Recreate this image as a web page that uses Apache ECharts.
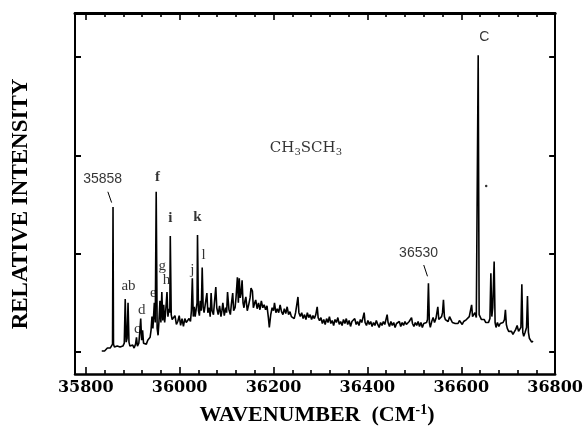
<!DOCTYPE html>
<html><head><meta charset="utf-8">
<script src="https://cdn.jsdelivr.net/npm/echarts@6/dist/echarts.min.js"></script>
<style>html,body{margin:0;padding:0;background:#fff}#c{width:586px;height:427px}</style>
</head><body><div id="c"></div>
<script>
// ---------- data ----------
const xMajorTicks = [35800, 36000, 36200, 36400, 36600, 36800];
const xMinorTicks = [35840, 35880, 35920, 35960, 36040, 36080, 36120, 36160, 36240, 36280, 36320, 36360,
                     36440, 36480, 36520, 36560, 36640, 36680, 36720, 36760];
const yTicks = [0, 1, 2, 3];

// [wavenumber (cm-1), relative intensity]
const spectrumLow = [
 [35834,0.01],[35837,0.02],[35840,0.01],[35843,0.03],[35846,0.04],[35849,0.03],[35852,0.04],[35855,0.05],
 [35857,0.08],[35858,1.475],[35859,0.08],[35861,0.05],[35864,0.04],[35867,0.06],[35870,0.04],[35873,0.05],
 [35876,0.04],[35879,0.06],[35882,0.09],[35884,0.54],[35886,0.1],[35888,0.14],[35890,0.50],[35892,0.1],
 [35894,0.06],[35897,0.05],[35900,0.07],[35903,0.04],[35906,0.08],[35908,0.15],[35910,0.06],[35913,0.09],
 [35915,0.2],[35917,0.34],[35919,0.12],[35921,0.22],[35923,0.09],[35926,0.11],[35929,0.08],[35932,0.12],
 [35935,0.10],[35937,0.15],[35939,0.22],[35941,0.36],[35943,0.24],[35946,0.50],[35948,0.3],[35950,1.63],
 [35952,0.24],[35954,0.17],[35956,0.32],[35958,0.52],[35960,0.3],[35962,0.61],[35964,0.32],[35966,0.48],
 [35968,0.3],[35970,0.4],[35973,0.61],[35975,0.36],[35977,0.44],[35979,0.4],[35980,1.18],[35982,0.38],
 [35984,0.33],[35987,0.31],[35990,0.37],[35993,0.28],[35996,0.31],[35999,0.37],[36002,0.27],[36005,0.34],
 [36008,0.26],[36011,0.34],[36014,0.30],[36017,0.29],[36020,0.34],[36023,0.31],[36025,0.42],[36027,0.75],
 [36029,0.36],[36031,0.46],[36033,0.36],[36035,0.43],[36037,0.5],[36038,1.19],[36040,0.42],[36042,0.37],
 [36044,0.52],[36046,0.42],[36048,0.86],[36050,0.46],[36052,0.40]
];
const spectrumMid = [
 [36055,0.38],[36058,0.6],[36060,0.40],[36063,0.45],[36065,0.36],[36067,0.6],[36069,0.42],[36072,0.38],
 [36074,0.5],[36077,0.66],[36079,0.45],[36082,0.38],[36085,0.47],[36088,0.36],[36090,0.42],[36092,0.5],
 [36095,0.37],[36098,0.45],[36100,0.40],[36102,0.61],[36105,0.43],[36108,0.38],[36110,0.48],[36113,0.6],
 [36115,0.42],[36118,0.45],[36120,0.55],[36123,0.76],[36125,0.5],[36127,0.75],[36129,0.55],[36131,0.6],
 [36133,0.73],[36135,0.5],[36137,0.45],[36139,0.52],[36141,0.56],[36144,0.42],[36147,0.48],[36150,0.55],
 [36152,0.65],[36155,0.62],[36157,0.45],[36160,0.5],[36162,0.53],[36165,0.44],[36168,0.5],[36171,0.43],
 [36174,0.52],[36177,0.45],[36180,0.48],[36183,0.43],[36186,0.47],[36189,0.35],[36191,0.25],[36194,0.38],
 [36197,0.45],[36200,0.42],[36202,0.50],[36205,0.40],[36208,0.44],[36211,0.40],[36214,0.48],[36217,0.41],
 [36220,0.38],[36223,0.44],[36226,0.39],[36229,0.46],[36232,0.38],[36235,0.41],[36238,0.36],[36241,0.38],
 [36244,0.34],[36247,0.40],[36250,0.42],[36252,0.56],[36254,0.40],[36257,0.36],[36260,0.40],[36263,0.34],
 [36266,0.38],[36269,0.33],[36272,0.40],[36275,0.35],[36278,0.38],[36281,0.33],[36284,0.37],[36287,0.34],
 [36290,0.38],[36293,0.46],[36295,0.35],[36298,0.32]
];
const spectrumFlat = [
 [36301,0.35],[36304,0.29],[36307,0.33],[36310,0.28],[36313,0.34],[36316,0.30],[36319,0.36],[36322,0.29],
 [36325,0.32],[36328,0.27],[36331,0.33],[36334,0.30],[36337,0.35],[36340,0.28],[36343,0.31],[36346,0.27],
 [36349,0.33],[36352,0.29],[36355,0.34],[36358,0.28],[36361,0.32],[36364,0.26],[36367,0.31],[36370,0.29],
 [36373,0.34],[36376,0.28],[36379,0.31],[36382,0.27],[36385,0.33],[36388,0.30],[36391,0.36],[36393,0.40],
 [36395,0.30],[36398,0.27],[36401,0.32],[36404,0.28],[36407,0.31],[36410,0.26],[36413,0.30],[36416,0.27],
 [36419,0.32],[36422,0.28],[36425,0.25],[36428,0.30],[36431,0.27],[36434,0.31],[36437,0.28],[36440,0.34],
 [36442,0.38],[36444,0.30],[36447,0.26],[36450,0.31],[36453,0.27],[36456,0.30],[36459,0.25],[36462,0.29],
 [36465,0.27],[36468,0.31],[36471,0.26],[36474,0.30],[36477,0.27],[36480,0.31],[36483,0.28],[36486,0.26],
 [36489,0.31],[36492,0.29],[36494,0.35],[36496,0.29],[36499,0.26],[36502,0.30],[36505,0.27],[36508,0.31],
 [36511,0.26],[36514,0.30],[36517,0.25],[36520,0.29],[36523,0.27],[36526,0.30],[36528,0.33]
];
const spectrumHigh = [
 [36530,0.70],[36532,0.30],[36534,0.25],[36537,0.31],[36540,0.35],[36543,0.30],[36546,0.34],[36548,0.32],
 [36550,0.46],[36552,0.33],[36555,0.31],[36558,0.36],[36560,0.40],[36562,0.53],[36564,0.36],[36566,0.33],
 [36569,0.35],[36572,0.31],[36575,0.36],[36578,0.33],[36581,0.30],[36584,0.32],[36587,0.29],[36590,0.31],
 [36593,0.29],[36596,0.32],[36599,0.30],[36602,0.28],[36605,0.31],[36608,0.29],[36611,0.33],[36614,0.31],
 [36617,0.36],[36620,0.35],[36622,0.48],[36624,0.36],[36627,0.38],[36629,0.40],[36632,0.35],[36634,0.37],
 [36636,3.02],[36638,0.38],[36640,0.36],[36643,0.33],[36646,0.31],[36649,0.33],[36652,0.30],[36655,0.32],
 [36658,0.30],[36661,0.34],[36663,0.80],[36665,0.36],[36667,0.45],[36670,0.92],[36672,0.30],[36674,0.25],
 [36677,0.30],[36680,0.26],[36683,0.29],[36686,0.27],[36689,0.30],[36692,0.33],[36694,0.43],[36696,0.28],
 [36698,0.24],[36701,0.21],[36704,0.19],[36707,0.21],[36710,0.18],[36713,0.20],[36716,0.23],[36719,0.27],
 [36722,0.21],[36725,0.19],[36727,0.25],[36729,0.69],[36731,0.20],[36733,0.16],[36736,0.20],[36739,0.25],
 [36741,0.57],[36743,0.20],[36745,0.14],[36748,0.12],[36750,0.10],[36753,0.11]
];
const specks = [[36653, 1.69]];

// annotation texts and their anchor points (wavenumber, intensity)
const peakLabels   = ['35858','ab','c','d','e','f','g','h','i','j','k','l','36530','C'];
const peakLabelAt  = [[35836,1.76],[35891,0.67],[35910,0.23],[35919,0.43],[35944,0.60],[35953,1.78],
                      [35963,0.87],[35972,0.73],[35980,1.36],[36027,0.83],[36038,1.37],[36051,0.99],
                      [36509,1.01],[36649,3.20]];
const leaderLines  = [[[35847,1.63],[35855,1.52]], [[36520,0.885],[36528,0.77]]];
const moleculeText = 'CH{s|3}SCH{s|3}';
const moleculeAt   = [36269, 2.07];
const xTitle = 'WAVENUMBER  (CM';
const xTitleSup = '-1';
const yTitle = 'RELATIVE INTENSITY';

// ---------- chart ----------
const spectrum = spectrumLow.concat(spectrumMid, spectrumFlat, spectrumHigh);
const XMIN = 35777, XMAX = 36800, YMIN = -0.224, YMAX = 3.449;
const BLACK = '#000';
const boldLetters = new Set(['f','i','k']);

function xAx(pos, ticks, len, showLine, showLabel) {
  return {
    type: 'value', position: pos, min: XMIN, max: XMAX,
    axisLine: { show: showLine, onZero: false, lineStyle: { color: BLACK, width: pos === 'top' ? 3 : 2.5 } },
    axisTick: { show: true, inside: true, length: len, customValues: ticks, lineStyle: { color: BLACK, width: 1.6 } },
    axisLabel: showLabel ? {
      show: true, customValues: ticks, color: BLACK, fontFamily: 'DejaVu Serif', fontWeight: 'bold',
      fontSize: 16, margin: 6, formatter: v => String(v)
    } : { show: false },
    splitLine: { show: false }
  };
}
function yAx(pos) {
  return {
    type: 'value', position: pos, min: YMIN, max: YMAX,
    axisLine: { show: true, onZero: false, lineStyle: { color: BLACK, width: 2 } },
    axisTick: { show: true, inside: true, length: 6, customValues: yTicks, lineStyle: { color: BLACK, width: 2 } },
    axisLabel: { show: false }, splitLine: { show: false }
  };
}

const labelData = peakLabels.map((t, i) => {
  const isNum = /^\d/.test(t) || t === 'C';
  return {
    value: peakLabelAt[i], name: t,
    label: {
      fontFamily: isNum ? 'Liberation Sans' : 'Liberation Serif',
      fontSize: isNum ? 14 : 15,
      fontWeight: boldLetters.has(t) ? 'bold' : 'normal'
    }
  };
});
labelData.push({
  value: moleculeAt, name: 'mol',
  label: {
    formatter: moleculeText,
    rich: {
      a: { fontFamily: 'DejaVu Serif', fontSize: 15, color: BLACK },
      s: { fontFamily: 'DejaVu Serif', fontSize: 10, color: BLACK, padding: [8, 0, 0, 0] }
    },
    fontFamily: 'DejaVu Serif', fontSize: 15
  }
});

const chart = echarts.init(document.getElementById('c'), null, { renderer: 'canvas' });
chart.setOption({
  animation: false,
  backgroundColor: '#fff',
  grid: { left: 75, right: 29, top: 13, bottom: 53 },
  xAxis: [
    xAx('bottom', xMajorTicks, 7, true, true),
    xAx('bottom', xMinorTicks, 4, false, false),
    xAx('top', xMajorTicks, 7, true, false),
    xAx('top', xMinorTicks, 4, false, false)
  ],
  yAxis: [yAx('left'), yAx('right')],
  series: [
    {
      type: 'line', data: spectrum, xAxisIndex: 0, yAxisIndex: 0,
      symbol: 'none', showSymbol: false, z: 3,
      lineStyle: { color: BLACK, width: 1.6 }
    },
    {
      type: 'scatter', data: labelData, xAxisIndex: 0, yAxisIndex: 0,
      symbolSize: 1, itemStyle: { color: 'rgba(0,0,0,0)' }, silent: true,
      label: { show: true, position: 'inside', formatter: '{b}', color: BLACK }
    },
    {
      type: 'scatter', data: specks, xAxisIndex: 0, yAxisIndex: 0,
      symbolSize: 2.5, itemStyle: { color: BLACK }, silent: true
    },
    {
      type: 'lines', coordinateSystem: 'cartesian2d', xAxisIndex: 0, yAxisIndex: 0,
      data: leaderLines.map(c => ({ coords: c })),
      lineStyle: { color: BLACK, width: 1, opacity: 1 }, silent: true
    }
  ],
  graphic: [
    {
      type: 'text', x: 21, y: 204, rotation: Math.PI / 2,
      style: { text: yTitle, font: 'bold 23px "Liberation Serif"', fill: BLACK, align: 'center', verticalAlign: 'middle' }
    },
    {
      type: 'text', x: 317, y: 415,
      style: {
        text: '{a|' + xTitle + '}{s|' + xTitleSup + '}{a|)}',
        rich: {
          a: { fontFamily: 'Liberation Serif', fontWeight: 'bold', fontSize: 22, lineHeight: 24, fill: BLACK },
          s: { fontFamily: 'Liberation Serif', fontWeight: 'bold', fontSize: 14, lineHeight: 14, verticalAlign: 'top', fill: BLACK }
        },
        align: 'center', verticalAlign: 'middle', fill: BLACK
      }
    }
  ]
});
</script></body></html>
